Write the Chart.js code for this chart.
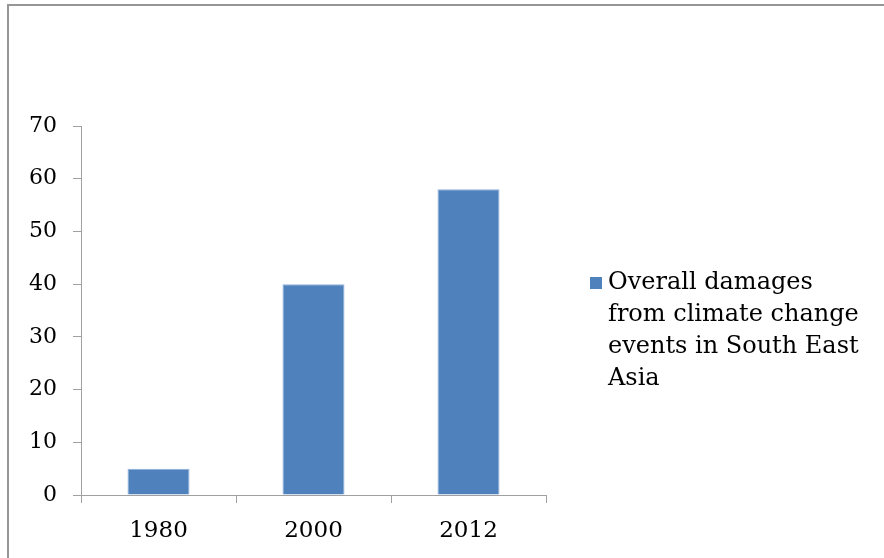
<!DOCTYPE html>
<html>
<head>
<meta charset="utf-8">
<script src="https://cdn.jsdelivr.net/npm/chart.js@4"></script>
<style>
  html, body { margin: 0; background: #fff; }
  #wrap { position: relative; width: 884px; height: 558px; overflow: hidden; }
  #frame { position: absolute; left: 7px; top: 4px; width: 1000px; height: 700px;
           border-top: 2px solid #969696; border-left: 2px solid #969696; }
  canvas { position: absolute; left: 0; top: 0; }
</style>
</head>
<body>
<div id="wrap">
  <div id="frame"></div>
  <canvas id="damageChart" width="884" height="558"></canvas>
</div>
<script>
// chart data
const years = ['1980', '2000', '2012'];
const damages = [5, 40, 58];
const yMin = 0;
const yMax = 70;
const yStep = 10;
const seriesName = 'Overall damages from climate change events in South East Asia';
const legendLines = ['Overall damages', 'from climate change', 'events in South East', 'Asia'];

const FONT = "'DejaVu Serif', serif";
const AXIS_GRAY = '#a0a0a0';
const BAR_BLUE = '#4f81bd';

// the built-in right legend is capped in width, so draw the wrapped legend here
const sideLegend = {
  id: 'sideLegend',
  afterDraw(chart) {
    const { ctx, chartArea } = chart;
    const x = chartArea.right + 44;
    const y = chartArea.top + 157;
    const lineH = 32;
    ctx.save();
    ctx.fillStyle = chart.data.datasets[0].backgroundColor;
    ctx.fillRect(x, y - 6, 12, 12);
    ctx.fillStyle = '#000';
    ctx.font = '24px ' + FONT;
    ctx.textBaseline = 'middle';
    ctx.textAlign = 'left';
    legendLines.forEach((line, i) => {
      ctx.fillText(line, x + 18, y + i * lineH);
    });
    ctx.restore();
  },
};

document.addEventListener('DOMContentLoaded', () => {
  const ctx = document.getElementById('damageChart').getContext('2d');
  new Chart(ctx, {
    type: 'bar',
    data: {
      labels: years,
      datasets: [
        {
          label: seriesName,
          data: damages,
          backgroundColor: BAR_BLUE,
          borderColor: '#8fb0da',
          borderWidth: 1,
          categoryPercentage: 1,
          barPercentage: 0.4,
        },
      ],
    },
    options: {
      responsive: false,
      animation: false,
      layout: { padding: { top: 126, left: 20, right: 338, bottom: 0 } },
      plugins: {
        tooltip: { enabled: false },
        legend: { display: false },
      },
      scales: {
        x: {
          grid: { drawOnChartArea: false, drawTicks: true, tickLength: 8, color: AXIS_GRAY, offset: true },
          border: { color: AXIS_GRAY },
          ticks: { color: '#000', font: { family: FONT, size: 23 }, padding: 14 },
          afterFit: (s) => { s.height = 63; },
        },
        y: {
          min: yMin,
          max: yMax,
          grid: { drawOnChartArea: false, drawTicks: true, tickLength: 8, color: AXIS_GRAY },
          border: { color: AXIS_GRAY },
          ticks: { stepSize: yStep, color: '#000', font: { family: FONT, size: 22 }, padding: 16 },
          afterFit: (s) => { s.width = 61; },
        },
      },
    },
    plugins: [sideLegend],
  });
});
</script>
</body>
</html>
